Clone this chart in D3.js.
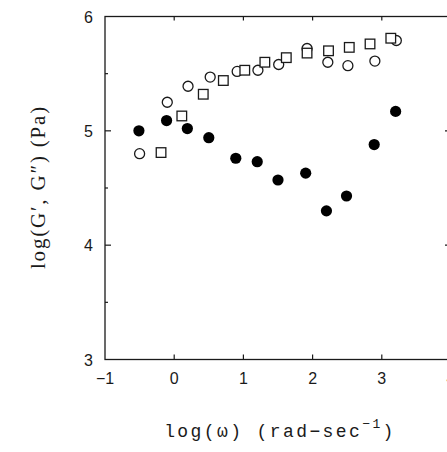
<!DOCTYPE html>
<html>
<head>
<meta charset="utf-8">
<script src="https://cdn.jsdelivr.net/npm/d3@7"></script>
<style>
  html, body { margin: 0; padding: 0; background: #fff; }
  svg { display: block; }
</style>
</head>
<body>
<div id="app"></div>
<script>
// G'' (filled circles)
const filledX = [-0.51, -0.11, 0.19, 0.50, 0.89, 1.20, 1.50, 1.90, 2.20, 2.49, 2.89, 3.20];
const filledY = [5.00, 5.09, 5.02, 4.94, 4.76, 4.73, 4.57, 4.63, 4.30, 4.43, 4.88, 5.17];

// G' (open circles)
const circleX = [-0.50, -0.10, 0.20, 0.52, 0.91, 1.21, 1.51, 1.92, 2.22, 2.51, 2.90, 3.21];
const circleY = [4.80, 5.25, 5.39, 5.47, 5.52, 5.53, 5.58, 5.72, 5.60, 5.57, 5.61, 5.79];

// G' (open squares)
const squareX = [-0.19, 0.11, 0.42, 0.71, 1.02, 1.31, 1.62, 1.92, 2.23, 2.53, 2.83, 3.13];
const squareY = [4.81, 5.13, 5.32, 5.44, 5.53, 5.60, 5.64, 5.68, 5.70, 5.73, 5.76, 5.81];

const xTicks = [-1, 0, 1, 2, 3, 4];
const yTicks = [3, 4, 5, 6];
const yMinor = [3.5, 4.5, 5.5];

const width = 447, height = 452;
const plot = { left: 105, right: 451, top: 16.5, bottom: 359.5 };
const ink = "#1a1a1a";

const x = d3.scaleLinear().domain([-1, 4]).range([plot.left, plot.right]);
const y = d3.scaleLinear().domain([3, 6]).range([plot.bottom, plot.top]);

const svg = d3.select("#app").append("svg")
  .attr("width", width)
  .attr("height", height);

// frame
svg.append("rect")
  .attr("x", plot.left).attr("y", plot.top)
  .attr("width", plot.right - plot.left)
  .attr("height", plot.bottom - plot.top)
  .attr("fill", "none")
  .attr("stroke", ink)
  .attr("stroke-width", 1.3);

// inward ticks
const inner = [0, 1, 2, 3];
const tickG = svg.append("g").attr("stroke", ink).attr("stroke-width", 1.2);
tickG.selectAll(".tb").data(inner).join("line")
  .attr("x1", d => x(d)).attr("x2", d => x(d))
  .attr("y1", plot.bottom).attr("y2", plot.bottom - 5);
tickG.selectAll(".tt").data(inner).join("line")
  .attr("x1", d => x(d)).attr("x2", d => x(d))
  .attr("y1", plot.top).attr("y2", plot.top + 4);
tickG.selectAll(".tl").data(yTicks.slice(1, 3)).join("line")
  .attr("x1", plot.left).attr("x2", plot.left + 6)
  .attr("y1", d => y(d)).attr("y2", d => y(d));
tickG.selectAll(".tm").data(yMinor).join("line")
  .attr("x1", plot.left).attr("x2", plot.left + 3)
  .attr("y1", d => y(d)).attr("y2", d => y(d));
tickG.selectAll(".tr").data(yTicks.slice(1, 3)).join("line")
  .attr("x1", plot.right).attr("x2", plot.right - 6)
  .attr("y1", d => y(d)).attr("y2", d => y(d));

// tick labels
svg.append("g").selectAll("text").data(xTicks).join("text")
  .attr("x", d => x(d))
  .attr("y", 384)
  .attr("text-anchor", "middle")
  .attr("font-family", "Liberation Sans, sans-serif")
  .attr("font-size", 16)
  .attr("fill", ink)
  .text(d => d < 0 ? "\u2212" + Math.abs(d) : d);

svg.append("g").selectAll("text").data(yTicks).join("text")
  .attr("x", 93)
  .attr("y", d => y(d) + 6)
  .attr("text-anchor", "end")
  .attr("font-family", "Liberation Sans, sans-serif")
  .attr("font-size", 16)
  .attr("fill", ink)
  .text(d => d);

// axis titles
const xLabel = svg.append("text")
  .attr("x", 280)
  .attr("y", 437)
  .attr("text-anchor", "middle")
  .attr("font-family", "Liberation Mono, monospace")
  .attr("font-size", 18)
  .attr("letter-spacing", 2.4)
  .attr("fill", ink);
xLabel.append("tspan").text("log(\u03c9) (rad\u2212sec");
xLabel.append("tspan").attr("dy", -9).attr("font-size", 13).text("\u22121");
xLabel.append("tspan").attr("dy", 9).text(")");

svg.append("text")
  .attr("transform", "translate(45,187) rotate(-90)")
  .attr("text-anchor", "middle")
  .attr("font-family", "Liberation Serif, serif")
  .attr("font-size", 21)
  .attr("letter-spacing", 1.8)
  .attr("fill", ink)
  .text("log(G\u2032, G\u2033) (Pa)");

// markers
const toPts = (xs, ys) => xs.map((v, i) => ({ x: v, y: ys[i] }));

svg.append("g").selectAll("circle").data(toPts(circleX, circleY)).join("circle")
  .attr("cx", d => x(d.x)).attr("cy", d => y(d.y))
  .attr("r", 5)
  .attr("fill", "#fff")
  .attr("stroke", ink)
  .attr("stroke-width", 1.3);

svg.append("g").selectAll("rect").data(toPts(squareX, squareY)).join("rect")
  .attr("x", d => x(d.x) - 4.8).attr("y", d => y(d.y) - 4.8)
  .attr("width", 9.6).attr("height", 9.6)
  .attr("fill", "#fff")
  .attr("stroke", ink)
  .attr("stroke-width", 1.3);

svg.append("g").selectAll("circle").data(toPts(filledX, filledY)).join("circle")
  .attr("cx", d => x(d.x)).attr("cy", d => y(d.y))
  .attr("r", 5.6)
  .attr("fill", "#000");
</script>
</body>
</html>
